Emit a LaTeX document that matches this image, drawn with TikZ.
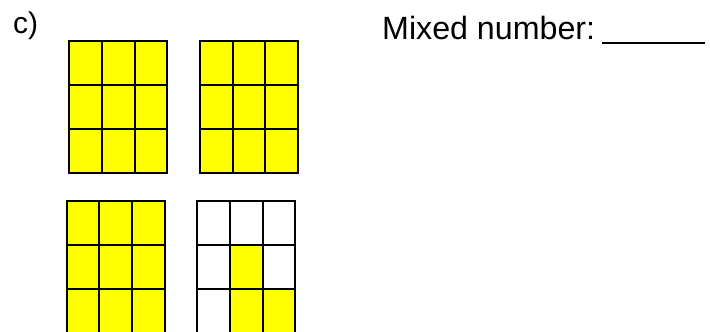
\documentclass[tikz,border=0pt]{standalone}
\usepackage{fontspec}
\setmainfont{Liberation Sans}
\definecolor{cellyellow}{RGB}{255,255,0}
\tikzset{
  gridline/.style={line width=2.6pt, draw=black},
  filled/.style={fill=cellyellow},
  lbl/.style={inner sep=0pt, anchor=base west, font=\fontsize{32.2pt}{37pt}\selectfont},
  partlbl/.style={inner sep=0pt, anchor=base west, font=\fontsize{30pt}{35pt}\selectfont}
}
\begin{document}
\begin{tikzpicture}[x=1pt,y=-1pt]
\useasboundingbox (0,0) rectangle (710,332);
% labels
\node[partlbl] (c) at (13,33) {c)};
\node[lbl] (mixed) at (382,39) {Mixed number:};
\coordinate (u1) at (602,43);
\coordinate (u2) at (705,43);
\draw[line width=2.2pt] (u1) -- (u2);
% grid 1 (all filled)
\fill[filled] (69,41) rectangle (167,173);
\draw[gridline] (69,41) rectangle (167,173);
\draw[gridline] (102,41) -- (102,173) (135,41) -- (135,173)
  (69,85) -- (167,85) (69,129) -- (167,129);
% grid 2 (all filled)
\fill[filled] (200,41) rectangle (298,173);
\draw[gridline] (200,41) rectangle (298,173);
\draw[gridline] (233,41) -- (233,173) (265,41) -- (265,173)
  (200,85) -- (298,85) (200,129) -- (298,129);
% grid 3 (all filled)
\fill[filled] (67,201) rectangle (165,334);
\draw[gridline] (67,201) rectangle (165,334);
\draw[gridline] (99,201) -- (99,334) (132,201) -- (132,334)
  (67,245) -- (165,245) (67,289) -- (165,289);
% grid 4 (three filled)
\fill[filled] (230,245) rectangle (263,289);
\fill[filled] (230,289) rectangle (295,334);
\draw[gridline] (197,201) rectangle (295,334);
\draw[gridline] (230,201) -- (230,334) (263,201) -- (263,334)
  (197,245) -- (295,245) (197,289) -- (295,289);
\end{tikzpicture}
\end{document}
